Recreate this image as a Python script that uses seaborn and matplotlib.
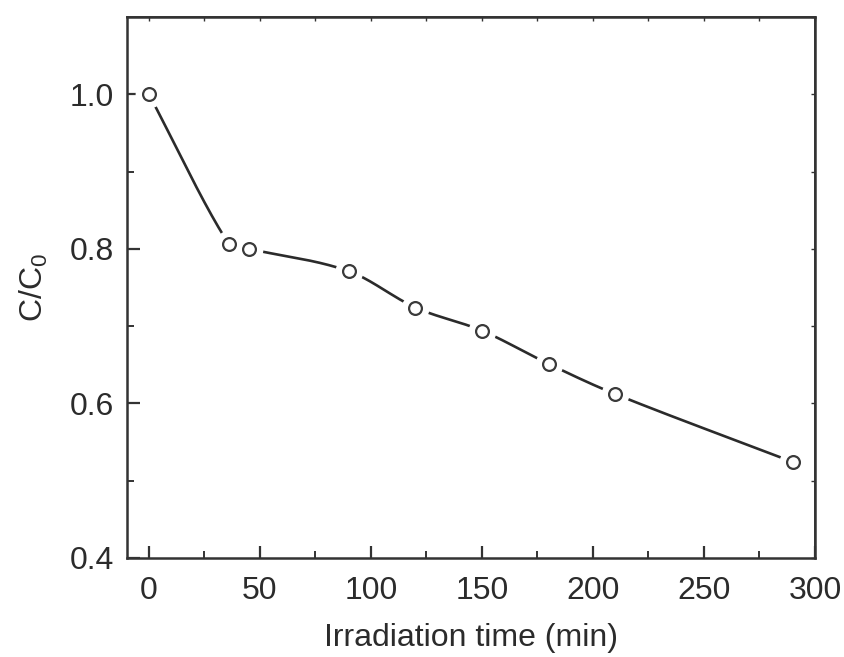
import numpy as np
import pandas as pd
import matplotlib
matplotlib.use("Agg")
import matplotlib.pyplot as plt
import seaborn as sns

# data
time_min = [0, 36, 45, 90, 120, 150, 180, 210, 290]
c_ratio = [1.0, 0.806, 0.800, 0.771, 0.724, 0.694, 0.651, 0.612, 0.524]


def smooth_line(x, y, xs):
    # Catmull-Rom style cubic connector, only used to draw the line
    x = np.asarray(x, float)
    y = np.asarray(y, float)
    h = np.diff(x)
    m = np.empty_like(y)
    m[1:-1] = (y[2:] - y[:-2]) / (x[2:] - x[:-2])
    m[0] = (y[1] - y[0]) / h[0]
    m[-1] = (y[-1] - y[-2]) / h[-1]
    idx = np.clip(np.searchsorted(x, xs) - 1, 0, len(x) - 2)
    t = (xs - x[idx]) / h[idx]
    h00 = 2 * t**3 - 3 * t**2 + 1
    h10 = t**3 - 2 * t**2 + t
    h01 = -2 * t**3 + 3 * t**2
    h11 = t**3 - t**2
    return (h00 * y[idx] + h10 * h[idx] * m[idx]
            + h01 * y[idx + 1] + h11 * h[idx] * m[idx + 1])


sns.set_theme(style="ticks")
plt.rcParams["font.family"] = ["Liberation Sans", "DejaVu Sans"]
plt.rcParams["mathtext.default"] = "regular"

ink = "#2b2b2b"
df = pd.DataFrame({"t": time_min, "c": c_ratio})
xs = np.linspace(time_min[0], time_min[-1], 800)
curve = pd.DataFrame({"t": xs, "c": smooth_line(time_min, c_ratio, xs)})

fig = plt.figure(figsize=(8.45, 6.57), dpi=100)
ax = fig.add_axes([0.150, 0.151, 0.8145, 0.823])

sns.lineplot(data=curve, x="t", y="c", ax=ax, color=ink, linewidth=1.9,
             zorder=2)
# white halo so the line stops short of each marker
ax.plot(df["t"], df["c"], ls="none", marker="o", ms=19, mfc="white",
        mec="white", zorder=3)
sns.scatterplot(data=df, x="t", y="c", ax=ax, s=85, facecolor="white",
                edgecolor="#3a3a3a", linewidth=1.6, zorder=4)

ax.set_xlim(-10, 300)
ax.set_ylim(0.4, 1.1)
ax.set_xticks([0, 50, 100, 150, 200, 250, 300])
ax.set_xticks(np.arange(25, 300, 50), minor=True)
ax.set_yticks([0.4, 0.6, 0.8, 1.0])
ax.set_yticks([0.5, 0.7, 0.9], minor=True)
ax.set_yticklabels(["0.4", "0.6", "0.8", "1.0"])

ax.set_xlabel("Irradiation time (min)", fontsize=23, color=ink, labelpad=12)
ax.set_ylabel("C/C$_0$", fontsize=23, color=ink, labelpad=14)

for s in ax.spines.values():
    s.set_color("#333333")
    s.set_linewidth(1.8)

ax.tick_params(which="major", direction="in", length=9, width=1.6,
               color="#333333", labelsize=23, labelcolor=ink)
ax.tick_params(axis="x", which="major", pad=13)
ax.tick_params(axis="y", which="major", pad=9)
ax.tick_params(which="minor", direction="in", length=5, width=1.4,
               color="#333333")

# small mirrored ticks on top and right
top = ax.secondary_xaxis("top")
top.set_xticks(np.arange(0, 301, 25))
top.tick_params(direction="in", length=3, width=1.0, color="#333333",
                labeltop=False)
right = ax.secondary_yaxis("right")
right.set_yticks(np.arange(0.4, 1.11, 0.1))
right.tick_params(direction="in", length=3, width=1.0, color="#333333",
                  labelright=False)

fig.savefig("out.png", dpi=100)
